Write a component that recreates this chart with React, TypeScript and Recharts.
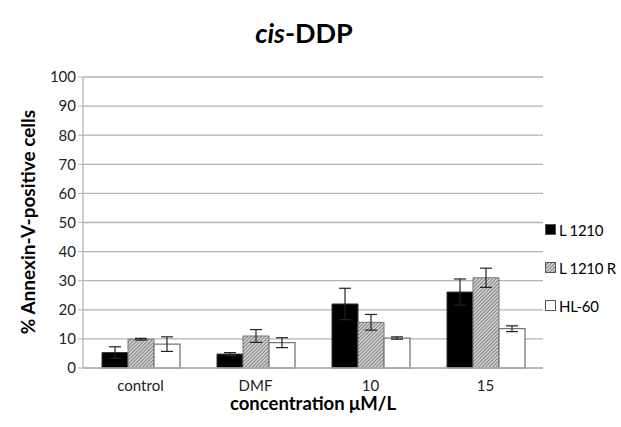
import { BarChart, Bar, XAxis, YAxis, CartesianGrid, ErrorBar } from 'recharts';

const categories = ['control', 'DMF', '10', '15'];
const l1210 = [5.3, 4.8, 22.0, 26.1];
const l1210Err = [2.0, 0.5, 5.4, 4.5];
const l1210R = [9.9, 11.0, 15.7, 31.0];
const l1210RErr = [0.3, 2.2, 2.7, 3.3];
const hl60 = [8.2, 8.7, 10.3, 13.5];
const hl60Err = [2.5, 1.7, 0.4, 1.0];
const yTicks = [0, 10, 20, 30, 40, 50, 60, 70, 80, 90, 100];

const seriesNames = ['L 1210', 'L 1210 R', 'HL-60'];

const data = categories.map((name, i) => ({
  name,
  a: l1210[i],
  aErr: l1210Err[i],
  b: l1210R[i],
  bErr: l1210RErr[i],
  c: hl60[i],
  cErr: hl60Err[i],
}));

const font = 'Lato, "Open Sans", sans-serif';
const gridColor = '#b3b3b3';

// legend drawn outside recharts so it doesn't eat into the plot area
function LegendBox() {
  const swatches = ['#000', 'url(#hatchLegend)', '#fff'];
  return (
    <div style={{ position: 'absolute', left: 545, top: 211, fontFamily: font, fontSize: 15, color: '#000', whiteSpace: 'nowrap' }}>
      <svg width={0} height={0} style={{ position: 'absolute' }}>
        <defs>
          <pattern id="hatchLegend" patternUnits="userSpaceOnUse" width={2.5} height={2.5} patternTransform="rotate(45)">
            <rect width={2.5} height={2.5} fill="#d0d0d0" />
            <line x1={0} y1={0} x2={0} y2={2.5} stroke="#555" strokeWidth={1.2} />
          </pattern>
        </defs>
      </svg>
      {seriesNames.map((n, i) => (
        <div key={n} style={{ display: 'flex', alignItems: 'center', height: 38 }}>
          <svg width={12} height={12} style={{ marginRight: 2 }}>
            <rect x={0.5} y={0.5} width={10} height={10} fill={swatches[i]} stroke="#555" strokeWidth={1} />
          </svg>
          <span style={{ letterSpacing: -0.3 }}>{n}</span>
        </div>
      ))}
    </div>
  );
}

export default function App() {
  return (
    <div style={{ position: 'absolute', left: 0, top: 0, width: 621, height: 427, background: '#fff', overflow: 'hidden' }}>
      <div
        style={{
          position: 'absolute',
          top: 16,
          left: 0,
          width: 608,
          textAlign: 'center',
          fontFamily: font,
          fontWeight: 700,
          fontSize: 27,
          lineHeight: '34px',
        }}
      >
        <i>cis</i>-DDP
      </div>
      <div
        style={{
          position: 'absolute',
          left: 27,
          top: 222,
          transform: 'translate(-50%, -50%) rotate(-90deg)',
          whiteSpace: 'nowrap',
          fontFamily: font,
          fontWeight: 700,
          fontSize: 19,
        }}
      >
        % Annexin-V-positive cells
      </div>
      <div
        style={{
          position: 'absolute',
          top: 392,
          left: 83,
          width: 460,
          textAlign: 'center',
          fontFamily: font,
          fontWeight: 700,
          fontSize: 18.5,
        }}
      >
        concentration μM/L
      </div>
      <BarChart
        width={621}
        height={427}
        data={data}
        margin={{ top: 77, right: 78, bottom: 29, left: 43 }}
        barCategoryGap={19}
        barGap={0}
      >
        <defs>
          <pattern id="hatch" patternUnits="userSpaceOnUse" width={2.5} height={2.5} patternTransform="rotate(45)">
            <rect width={2.5} height={2.5} fill="#d0d0d0" />
            <line x1={0} y1={0} x2={0} y2={2.5} stroke="#555" strokeWidth={1.2} />
          </pattern>
        </defs>
        <CartesianGrid vertical={false} stroke={gridColor} strokeWidth={1.3} />
        <XAxis
          dataKey="name"
          height={30}
          axisLine={{ stroke: gridColor, strokeWidth: 1.3 }}
          tickLine={false}
          tick={{ fill: '#222', fontSize: 15, fontFamily: font }}
          tickMargin={6}
        />
        <YAxis
          width={40}
          domain={[0, 100]}
          ticks={yTicks}
          interval={0}
          axisLine={{ stroke: gridColor, strokeWidth: 1.3 }}
          tickLine={{ stroke: gridColor }}
          tickSize={5}
          tick={{ fill: '#222', fontSize: 15, fontFamily: font }}
        />
        <Bar dataKey="a" fill="#000" stroke="#333" isAnimationActive={false}>
          <ErrorBar dataKey="aErr" width={6} stroke="#222" strokeWidth={1.2} />
        </Bar>
        <Bar dataKey="b" fill="url(#hatch)" stroke="#777" isAnimationActive={false}>
          <ErrorBar dataKey="bErr" width={6} stroke="#222" strokeWidth={1.2} />
        </Bar>
        <Bar dataKey="c" fill="#fff" stroke="#777" strokeWidth={1.3} isAnimationActive={false}>
          <ErrorBar dataKey="cErr" width={6} stroke="#222" strokeWidth={1.2} />
        </Bar>
      </BarChart>
      <LegendBox />
    </div>
  );
}
